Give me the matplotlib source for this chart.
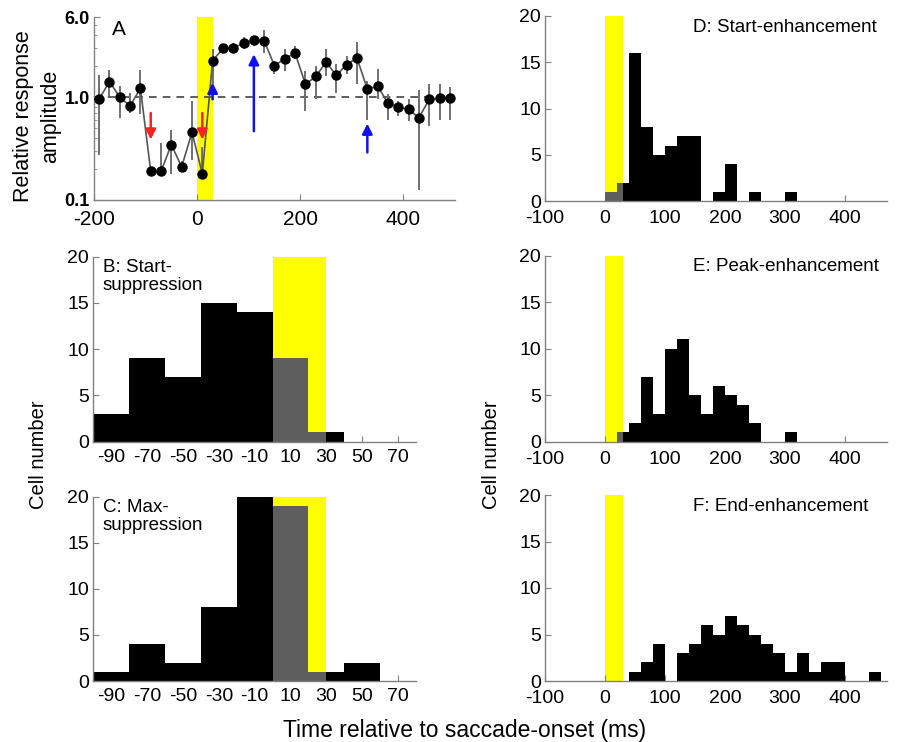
import numpy as np
import matplotlib
matplotlib.use("Agg")
import matplotlib.pyplot as plt

plt.rcParams['font.family'] = ['Liberation Sans', 'DejaVu Sans']
plt.rcParams['axes.unicode_minus'] = False

# Panel A: relative response amplitude (20 ms bins, bin centres)
a_time = list(range(-190, 500, 20))
a_amp = [0.96, 1.41, 1.0, 0.82, 1.22, 0.19, 0.19, 0.345, 0.21, 0.455,
         0.18, 2.25, 2.97, 3.03, 3.32, 3.58, 3.53, 2.01, 2.37, 2.67,
         1.33, 1.59, 2.18, 1.63, 2.07, 2.40, 1.19, 1.28, 0.87, 0.80,
         0.76, 0.63, 0.95, 0.98, 0.98]
a_lo = [0.275, 1.02, 0.63, 0.70, 0.68, 0.17, 0.19, 0.18, 0.20, 0.246,
        0.175, 1.33, 2.71, 2.71, 2.92, 3.15, 2.71, 1.67, 1.79, 2.33,
        0.73, 0.95, 1.60, 1.10, 1.67, 1.33, 0.605, 0.95, 0.60, 0.65,
        0.58, 0.125, 0.52, 0.605, 0.605]
a_hi = [1.63, 1.84, 1.28, 1.10, 1.84, 0.21, 0.358, 0.48, 0.24, 0.91,
        0.33, 2.92, 3.27, 3.39, 3.80, 3.95, 4.52, 2.25, 2.92, 3.15,
        1.79, 2.01, 2.92, 2.09, 2.52, 3.45, 1.43, 1.86, 1.06, 0.91,
        0.95, 1.17, 1.33, 1.33, 1.26]

# arrows in panel A: x, tail, head
red_x = [-90, 10]
red_tail = [0.70, 0.70]
red_head = [0.386, 0.386]
blue_x = [30, 110, 330]
blue_tail = [0.95, 0.466, 0.29]
blue_head = [1.38, 2.61, 0.553]

# saccade window
win = (0, 30)

# histograms: bin edges and counts
b_edges = [-100, -80, -60, -40, -20, 0, 20, 30, 40]
b_counts = [3, 9, 7, 15, 14, 9, 1, 1]
c_edges = [-100, -80, -60, -40, -20, 0, 20, 30, 40, 60]
c_counts = [1, 4, 2, 8, 20, 19, 1, 1, 2]
d_edges = [0, 20, 30] + list(range(40, 321, 20))
d_counts = [1, 2, 2, 16, 8, 5, 6, 7, 7, 0, 1, 4, 0, 1, 0, 0, 1]
e_edges = [0, 20, 30] + list(range(40, 321, 20))
e_counts = [0, 1, 1, 2, 7, 3, 10, 11, 5, 3, 6, 5, 4, 2, 0, 0, 1]
f_edges = list(range(40, 461, 20))
f_counts = [1, 2, 4, 0, 3, 4, 6, 5, 7, 6, 5, 4, 3, 1, 3, 1, 2, 2, 0, 0, 1]

bc_ticks = [-90, -70, -50, -30, -10, 10, 30, 50, 70]
def_ticks = [-100, 0, 100, 200, 300, 400]

W, H = 904, 742
fig = plt.figure(figsize=(W / 100, H / 100), dpi=100)


def box(x0, y0, x1, y1):
    return [x0 / W, 1 - y1 / H, (x1 - x0) / W, (y1 - y0) / H]


spine_col = '#808080'


def style(ax, fs=14, xpad=5):
    for s in ['top', 'right']:
        ax.spines[s].set_visible(False)
    for s in ['left', 'bottom']:
        ax.spines[s].set_color(spine_col)
        ax.spines[s].set_linewidth(1.0)
    ax.tick_params(direction='in', color=spine_col, labelsize=fs, length=4, pad=3)
    ax.tick_params(axis='x', pad=xpad)
    ax.tick_params(which='minor', direction='in', color=spine_col, length=2)


def hist(ax, edges, counts, xlim, ticks, label, lx, ly, xpad=5):
    ax.axvspan(win[0], win[1], ymin=0, ymax=1, color='#ffff00', lw=0, zorder=0)
    left = np.array(edges[:-1])
    width = np.diff(edges)
    cols = ['#5e5e5e' if (l >= win[0] and l + w <= win[1]) else 'black'
            for l, w in zip(left, width)]
    ax.bar(left, counts, width=width, align='edge', color=cols, lw=0, zorder=2)
    ax.set_xlim(*xlim)
    ax.set_ylim(0, 20)
    ax.set_yticks([0, 5, 10, 15, 20])
    ax.set_xticks(ticks)
    style(ax, xpad=xpad)
    ax.text(lx, ly, label, transform=ax.transAxes, ha='left', va='top',
            fontsize=13.5, linespacing=1.1)


# Panel A
axA = fig.add_axes(box(94, 17, 455, 200))
axA.axvspan(win[0], win[1], color='#ffff00', lw=0, zorder=0)
axA.axhline(1.0, color='#333333', ls=(0, (5, 4)), lw=1.1, zorder=1)
a_amp_arr = np.array(a_amp)
yerr = [a_amp_arr - np.array(a_lo), np.array(a_hi) - a_amp_arr]
axA.errorbar(a_time, a_amp, yerr=yerr, fmt='none', ecolor='#707070',
             elinewidth=1.4, capsize=0, zorder=2)
axA.plot(a_time, a_amp, color='#555555', lw=1.2, marker='o', ms=6.5,
         mfc='black', mec='black', zorder=3)
for x, t, h in zip(red_x, red_tail, red_head):
    axA.annotate('', xy=(x, h), xytext=(x, t),
                 arrowprops=dict(arrowstyle='-|>', color='#ff2020', lw=1.8,
                                 mutation_scale=15, shrinkA=0, shrinkB=0), zorder=4)
for x, t, h in zip(blue_x, blue_tail, blue_head):
    axA.annotate('', xy=(x, h), xytext=(x, t),
                 arrowprops=dict(arrowstyle='-|>', color='#1010ee', lw=1.8,
                                 mutation_scale=15, shrinkA=0, shrinkB=0), zorder=4)
axA.set_yscale('log')
axA.set_ylim(0.1, 6.0)
axA.set_xlim(-200, 500)
axA.set_yticks([0.1, 1.0, 6.0])
axA.set_yticklabels(['0.1', '1.0', '6.0'], fontweight='bold')
axA.set_xticks([-200, 0, 200, 400])
style(axA, fs=15, xpad=7)
axA.tick_params(axis='y', labelsize=13)
axA.text(0.05, 0.985, 'A', transform=axA.transAxes, ha='left', va='top', fontsize=15)

axB = fig.add_axes(box(93.3, 256.7, 416, 441.7))
hist(axB, b_edges, b_counts, (-100, 80), bc_ticks, 'B: Start-\nsuppression', 0.03, 0.99)
axC = fig.add_axes(box(93.3, 496.7, 416, 681))
hist(axC, c_edges, c_counts, (-100, 80), bc_ticks, 'C: Max-\nsuppression', 0.03, 0.99)
axD = fig.add_axes(box(545, 16, 887, 201))
hist(axD, d_edges, d_counts, (-100, 470), def_ticks, 'D: Start-enhancement', 0.433, 0.985, xpad=6.5)
axE = fig.add_axes(box(545, 255.7, 887, 441.7))
hist(axE, e_edges, e_counts, (-100, 470), def_ticks, 'E: Peak-enhancement', 0.433, 0.985, xpad=6.5)
axF = fig.add_axes(box(545, 495, 887, 681))
hist(axF, f_edges, f_counts, (-100, 470), def_ticks, 'F: End-enhancement', 0.433, 0.985, xpad=6.5)

fig.text(37 / W, 1 - 116 / H, 'Relative response\namplitude', rotation=90,
         ha='center', va='center', fontsize=15.5, linespacing=1.35, multialignment='center')
fig.text(38 / W, 1 - 455 / H, 'Cell number', rotation=90, ha='center', va='center', fontsize=14.5)
fig.text(492 / W, 1 - 455 / H, 'Cell number', rotation=90, ha='center', va='center', fontsize=14.5)
fig.text(465 / W, 1 - 730 / H, 'Time relative to saccade-onset (ms)', ha='center',
         va='center', fontsize=16.5)

fig.savefig('out.png', dpi=100)
